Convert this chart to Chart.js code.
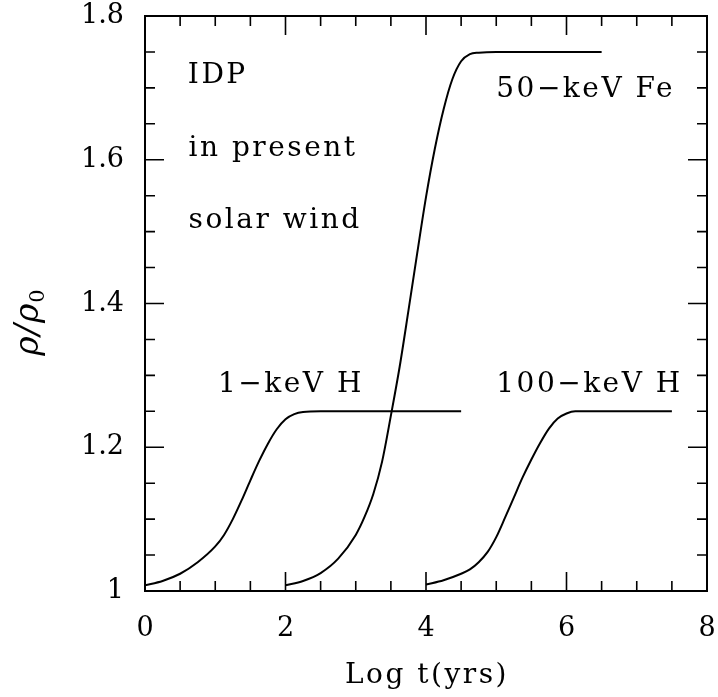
<!DOCTYPE html>
<html>
<head>
<meta charset="utf-8">
<script src="https://cdn.jsdelivr.net/npm/chart.js@4/dist/chart.umd.min.js"></script>
<style>
  html, body { margin: 0; padding: 0; background: #fff; }
  #wrap { width: 718px; height: 697px; position: relative; }
</style>
</head>
<body>
<div id="wrap"><canvas id="densityChart"></canvas></div>
<script>
// Log t (yrs) and rho/rho0 for each ion run
const hLowX  = [0, 0.25, 0.5, 0.75, 1.0, 1.125, 1.25, 1.375, 1.5, 1.625, 1.75, 1.875, 2.0, 2.125, 2.25, 2.5, 3.0, 3.5, 4.0, 4.5];
const hLowY  = [1.008, 1.014, 1.024, 1.040, 1.062, 1.078, 1.100, 1.126, 1.154, 1.181, 1.205, 1.225, 1.239, 1.246, 1.249, 1.250, 1.250, 1.250, 1.250, 1.250];

const feX    = [2.0, 2.25, 2.5, 2.75, 3.0, 3.125, 3.25, 3.375, 3.5, 3.625, 3.75, 3.875, 4.0, 4.125, 4.25, 4.375, 4.5, 4.625, 4.75, 5.0, 5.5, 6.0, 6.5];
const feY    = [1.008, 1.014, 1.025, 1.045, 1.078, 1.103, 1.135, 1.180, 1.244, 1.312, 1.390, 1.470, 1.548, 1.615, 1.670, 1.712, 1.737, 1.747, 1.749, 1.750, 1.750, 1.750, 1.750];

const hHighX = [4.0, 4.25, 4.5, 4.625, 4.75, 4.875, 5.0, 5.125, 5.25, 5.375, 5.5, 5.625, 5.75, 5.875, 6.0, 6.125, 6.25, 6.5, 7.0, 7.5];
const hHighY = [1.009, 1.015, 1.024, 1.030, 1.040, 1.054, 1.075, 1.102, 1.130, 1.158, 1.183, 1.206, 1.226, 1.240, 1.247, 1.250, 1.250, 1.250, 1.250, 1.250];

const xTicks = [0, 2, 4, 6, 8];
const yTicks = [1, 1.2, 1.4, 1.6, 1.8];

// text placed in data coordinates: [text, x, y]
const notes = [
  ['IDP', 0.61, 1.707],
  ['in present', 0.62, 1.605],
  ['solar wind', 0.62, 1.505],
  ['50\u2212keV Fe', 5.0, 1.687],
  ['1\u2212keV H', 1.04, 1.277],
  ['100\u2212keV H', 5.0, 1.277]
];

const toPoints = (xs, ys) => xs.map((x, i) => ({ x: x, y: ys[i] }));

const serif = "'DejaVu Serif', 'Liberation Serif', serif";

function curve(xs, ys) {
  return {
    data: toPoints(xs, ys),
    borderColor: '#000',
    borderWidth: 2,
    pointRadius: 0,
    fill: false,
    cubicInterpolationMode: 'monotone'
  };
}

// keep the plot box fixed: no extra room for overhanging labels
function noOverhang(s) {
  s.paddingTop = 0; s.paddingBottom = 0;
  s.paddingLeft = 0; s.paddingRight = 0;
}

// frame, inward ticks on all sides, notes and axis titles
const framePlugin = {
  id: 'frame',
  afterDraw(chart) {
    const ctx = chart.ctx;
    const a = chart.chartArea;
    const xs = chart.scales.x, ys = chart.scales.y;
    ctx.save();
    ctx.strokeStyle = '#000';
    ctx.lineWidth = 2;
    ctx.strokeRect(a.left, a.top, a.right - a.left, a.bottom - a.top);

    ctx.lineWidth = 1.6;
    ctx.beginPath();
    for (let i = 0; i <= 16; i++) {
      const v = i * 0.5;
      const px = xs.getPixelForValue(v);
      const len = (i % 4 === 0) ? 19 : 10;
      ctx.moveTo(px, a.bottom); ctx.lineTo(px, a.bottom - len);
      ctx.moveTo(px, a.top); ctx.lineTo(px, a.top + len);
    }
    for (let i = 0; i <= 16; i++) {
      const v = 1 + i * 0.05;
      const py = ys.getPixelForValue(v);
      const len = (i % 4 === 0) ? 19 : 10;
      ctx.moveTo(a.left, py); ctx.lineTo(a.left + len, py);
      ctx.moveTo(a.right, py); ctx.lineTo(a.right - len, py);
    }
    ctx.stroke();

    ctx.fillStyle = '#000';
    ctx.font = '28px ' + serif;
    ctx.letterSpacing = '2.5px';
    ctx.textAlign = 'left';
    ctx.textBaseline = 'alphabetic';
    notes.forEach(n => {
      ctx.fillText(n[0], xs.getPixelForValue(n[1]), ys.getPixelForValue(n[2]));
    });

    // x title
    ctx.textAlign = 'center';
    ctx.fillText('Log t(yrs)', (a.left + a.right) / 2 + 1, 683);

    // y title: rho / rho with subscript 0
    ctx.letterSpacing = '1px';
    ctx.translate(38, 322);
    ctx.rotate(-Math.PI / 2);
    ctx.textAlign = 'left';
    ctx.font = 'italic 33px ' + serif;
    const main = '\u03C1/\u03C1';
    const w = ctx.measureText(main).width;
    const sub = '0';
    ctx.font = '21px ' + serif;
    const ws = ctx.measureText(sub).width;
    const x0 = -(w + ws) / 2;
    ctx.font = 'italic 33px ' + serif;
    ctx.fillText(main, x0, 0);
    ctx.font = '21px ' + serif;
    ctx.fillText(sub, x0 + w, 6);
    ctx.restore();
  }
};

new Chart(document.getElementById('densityChart'), {
  type: 'line',
  data: {
    datasets: [curve(hLowX, hLowY), curve(feX, feY), curve(hHighX, hHighY)]
  },
  options: {
    responsive: true,
    maintainAspectRatio: false,
    animation: false,
    layout: { padding: { top: 16, right: 11, left: 0, bottom: 0 } },
    plugins: { legend: { display: false }, tooltip: { enabled: false } },
    scales: {
      x: {
        type: 'linear',
        min: 0,
        max: 8,
        afterBuildTicks: s => { s.ticks = xTicks.map(v => ({ value: v })); },
        afterFit: s => { s.height = 106; noOverhang(s); },
        grid: { display: false, drawTicks: false },
        border: { display: false },
        ticks: { color: '#000', font: { family: serif, size: 27 }, padding: 22, maxRotation: 0,
                 callback: v => String(v) }
      },
      y: {
        type: 'linear',
        min: 1,
        max: 1.8,
        afterBuildTicks: s => { s.ticks = yTicks.map(v => ({ value: v })); },
        afterFit: s => { s.width = 145; noOverhang(s); },
        grid: { display: false, drawTicks: false },
        border: { display: false },
        ticks: { color: '#000', font: { family: serif, size: 27 }, padding: 21,
                 callback: v => String(Math.round(v * 10) / 10) }
      }
    }
  },
  plugins: [framePlugin]
});
</script>
</body>
</html>
